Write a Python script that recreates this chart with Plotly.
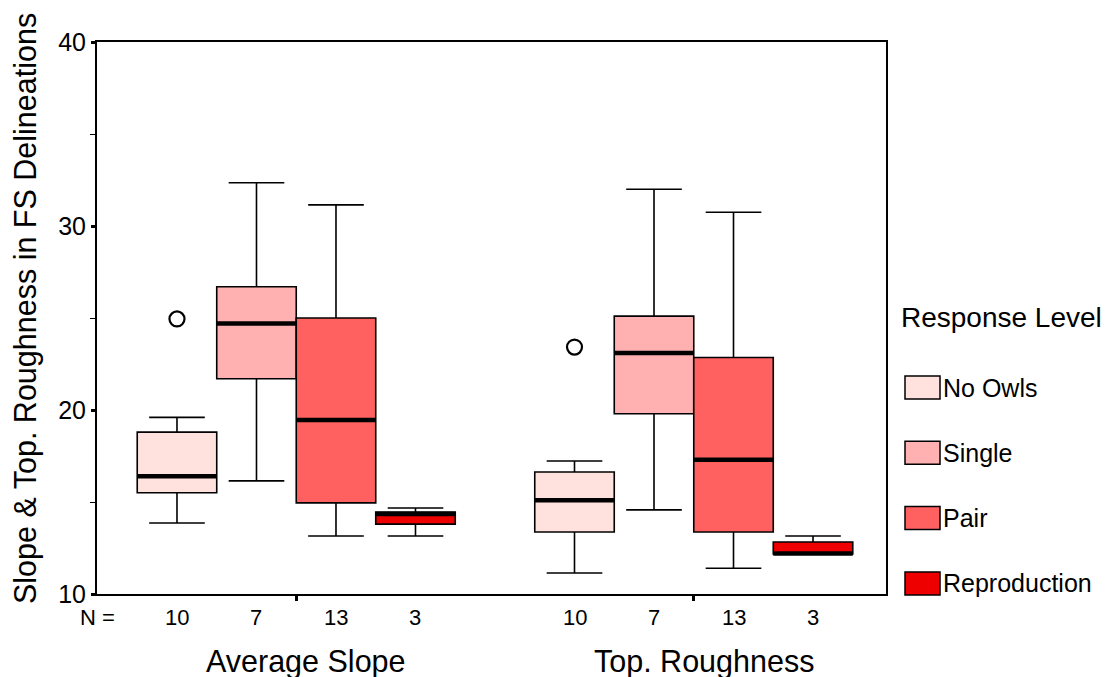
import plotly.graph_objects as go

# ---------------- data ----------------
groups = ["Average Slope", "Top. Roughness"]
levels = ["No Owls", "Single", "Pair", "Reproduction"]
colors = ["#FFE1DE", "#FFB0B0", "#FF6060", "#EE0000"]
n_counts = [10, 7, 13, 3]

# per level: [Average Slope, Top. Roughness]
q1 = {
    "No Owls": [15.5, 13.37],
    "Single": [21.7, 19.8],
    "Pair": [14.95, 13.37],
    "Reproduction": [13.8, 12.17],
}
median = {
    "No Owls": [16.4, 15.1],
    "Single": [24.7, 23.1],
    "Pair": [19.45, 17.3],
    "Reproduction": [14.35, 12.2],
}
q3 = {
    "No Owls": [18.8, 16.63],
    "Single": [26.7, 25.1],
    "Pair": [25.0, 22.85],
    "Reproduction": [14.46, 12.83],
}
lower = {
    "No Owls": [13.86, 11.14],
    "Single": [16.15, 14.57],
    "Pair": [13.15, 11.4],
    "Reproduction": [13.15, 12.17],
}
upper = {
    "No Owls": [19.6, 17.23],
    "Single": [32.35, 32.0],
    "Pair": [31.15, 30.75],
    "Reproduction": [14.67, 13.15],
}
outliers = {"No Owls": [24.95, 23.42]}

# ---------------- layout helpers ----------------
W, H = 1116, 677
L, R, T, B = 97, 886, 42, 594
FONT = "Arial, Liberation Sans, sans-serif"


def px_x(p):
    return (p - L) / (R - L)


def px_y(p):
    return (B - p) / (B - T)


def pos(gi, li):
    return gi * 5 + li


fig = go.Figure()

for li, lev in enumerate(levels):
    xs = [pos(gi, li) for gi in range(len(groups))]
    fig.add_trace(go.Box(
        x=xs,
        q1=q1[lev], median=median[lev], q3=q3[lev],
        lowerfence=lower[lev], upperfence=upper[lev],
        width=1.0, whiskerwidth=0.7,
        fillcolor=colors[li],
        line=dict(color="black", width=1.6),
        boxpoints=False, showlegend=False, name=lev,
        hoverinfo="skip",
    ))
    # thick median line
    mx, my = [], []
    for gi, x in enumerate(xs):
        mx += [x - 0.5, x + 0.5, None]
        my += [median[lev][gi], median[lev][gi], None]
    fig.add_trace(go.Scatter(x=mx, y=my, mode="lines",
                             line=dict(color="black", width=4.5),
                             showlegend=False, hoverinfo="skip"))

for lev, vals in outliers.items():
    li = levels.index(lev)
    fig.add_trace(go.Scatter(
        x=[pos(gi, li) for gi in range(len(groups))], y=vals,
        mode="markers",
        marker=dict(symbol="circle-open", size=15, color="black",
                    line=dict(width=2.2, color="black")),
        showlegend=False, hoverinfo="skip"))

annotations = []
# N labels
annotations.append(dict(x=0, y=px_y(617), xref="paper", yref="paper",
                        text="N =", showarrow=False, xanchor="center",
                        yanchor="middle", font=dict(size=22, color="black", family=FONT)))
for gi in range(len(groups)):
    for li in range(len(levels)):
        annotations.append(dict(x=pos(gi, li), y=px_y(617), xref="x", yref="paper",
                                text=str(n_counts[li]), showarrow=False,
                                xanchor="center", yanchor="middle",
                                font=dict(size=22, color="black", family=FONT)))
    annotations.append(dict(x=pos(gi, 1.5), y=px_y(661), xref="x", yref="paper",
                            text=groups[gi], showarrow=False, xshift=10,
                            xanchor="center", yanchor="middle",
                            font=dict(size=30.5, color="black", family=FONT)))

# y title
annotations.append(dict(x=px_x(25), y=px_y(309), xref="paper", yref="paper",
                        text="Slope & Top. Roughness in FS Delineations",
                        textangle=-90, showarrow=False, xanchor="center",
                        yanchor="middle", font=dict(size=30.5, color="black", family=FONT)))

# legend (manual)
annotations.append(dict(x=px_x(899), y=px_y(317), xref="paper", yref="paper",
                        text="Response Level", showarrow=False, xanchor="left",
                        yanchor="middle", font=dict(size=28, color="black", family=FONT)))
shapes = []
for li, lev in enumerate(levels):
    cy = 387.5 + li * 65.3
    shapes.append(dict(type="rect", xref="paper", yref="paper",
                       x0=px_x(905), x1=px_x(940), y0=px_y(cy - 11.5), y1=px_y(cy + 11.5),
                       fillcolor=colors[li], line=dict(color="black", width=1.5)))
    annotations.append(dict(x=px_x(941), y=px_y(cy), xref="paper", yref="paper",
                            text=lev, showarrow=False, xanchor="left", yanchor="middle",
                            font=dict(size=25, color="black", family=FONT)))

fig.update_layout(
    width=W, height=H,
    margin=dict(l=L, r=W - R, t=T, b=H - B, autoexpand=False),
    paper_bgcolor="white", plot_bgcolor="white",
    boxmode="overlay",
    annotations=annotations, shapes=shapes,
    font=dict(family=FONT, color="black"),
)
fig.update_xaxes(
    range=[-1.006, 8.918], showgrid=False, zeroline=False,
    showline=True, linecolor="black", linewidth=2, mirror=True,
    tickmode="array", tickvals=[pos(gi, 1.5) for gi in range(len(groups))],
    ticktext=["", ""], ticks="outside", ticklen=5, tickwidth=3, tickcolor="black",
)
fig.update_yaxes(
    range=[10, 40], showgrid=False, zeroline=False,
    showline=True, linecolor="black", linewidth=2, mirror=True,
    tickmode="array", tickvals=[10, 20, 30, 40],
    ticks="outside", ticklen=4, tickwidth=3, tickcolor="black",
    tickfont=dict(size=25, color="black", family=FONT),
    minor=dict(tickvals=[15, 25, 35], ticks="outside", ticklen=5, tickwidth=1,
               tickcolor="black", showgrid=False),
)

fig.write_html("out.html")
